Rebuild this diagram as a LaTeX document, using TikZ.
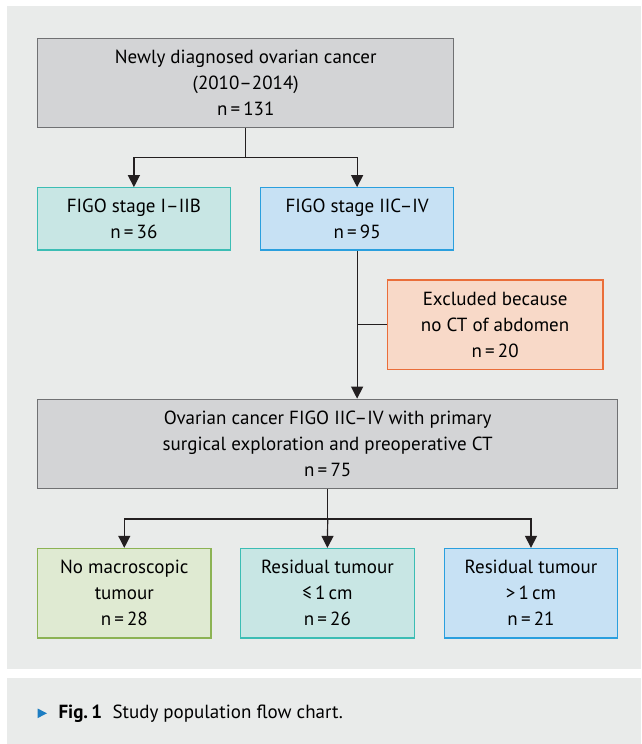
\documentclass[tikz,border=0pt]{standalone}
\usepackage{fontspec}
\setmainfont{PT Sans}
\usepackage{tikz}
\usetikzlibrary{arrows.meta}
\definecolor{panelbg}{HTML}{E9EBEA}
\definecolor{grayfill}{HTML}{D3D4D6}
\definecolor{grayline}{HTML}{707173}
\definecolor{tealfill}{HTML}{C8E6E4}
\definecolor{tealline}{HTML}{3CBDB4}
\definecolor{bluefill}{HTML}{C7E1F4}
\definecolor{blueline}{HTML}{2A9FDE}
\definecolor{peachfill}{HTML}{F8D9C8}
\definecolor{peachline}{HTML}{EA6E3A}
\definecolor{greenfill}{HTML}{DFEAD2}
\definecolor{greenline}{HTML}{8CB354}
\definecolor{edgecol}{HTML}{231F20}
\definecolor{markblue}{HTML}{1D7DC2}
\tikzstyle{node_box} = [draw, line width=1.2pt, align=center, inner sep=0pt, font=\fontsize{19}{26}\selectfont]
\tikzstyle{node_gray} = [node_box, fill=grayfill, draw=grayline, minimum height=89.5pt]
\tikzstyle{node_teal} = [node_box, fill=tealfill, draw=tealline]
\tikzstyle{node_blue} = [node_box, fill=bluefill, draw=blueline]
\tikzstyle{node_peach} = [node_box, fill=peachfill, draw=peachline]
\tikzstyle{node_green} = [node_box, fill=greenfill, draw=greenline]
\tikzstyle{edge_line} = [draw=edgecol, line width=1.2pt]
\tikzstyle{edge_arrow} = [edge_line, -{Triangle[length=12pt,width=12pt]}]

\begin{document}
\begin{tikzpicture}[x=1pt,y=-1pt]
\useasboundingbox (0,0) rectangle (641,744);
\fill[panelbg] (7,6) rectangle (641,669);
\fill[panelbg] (7,678) rectangle (641,744);

\def\hsmall{62.3pt}
\def\hbig{89.5pt}
\node (all) at (245.7,83) [node_gray, minimum width=416.2pt] {Newly diagnosed ovarian cancer\\(2010--2014)\\n\,=\,131};
\node (early) at (133.9,218.9) [node_teal, minimum width=192.6pt, minimum height=\hsmall] {FIGO stage I--IIB\\n\,=\,36};
\node (late) at (357.1,218.9) [node_blue, minimum width=193.4pt, minimum height=\hsmall] {FIGO stage IIC--IV\\n\,=\,95};
\node (excl) at (495.1,324.7) [node_peach, minimum width=215.8pt, minimum height=\hbig] {Excluded because\\no CT of abdomen\\n\,=\,20};
\node (study) at (327.7,444) [node_gray, minimum width=580.1pt] {Ovarian cancer FIGO IIC--IV with primary\\surgical exploration and preoperative CT\\n\,=\,75};
\node (none) at (124.3,593.2) [node_green, minimum width=173.4pt, minimum height=\hbig] {No macroscopic\\tumour\\n\,=\,28};
\node (small) at (327.4,593.2) [node_teal, minimum width=173.4pt, minimum height=\hbig] {Residual tumour\\≤\,1\,cm\\n\,=\,26};
\node (large) at (531,593.2) [node_blue, minimum width=173.4pt, minimum height=\hbig] {Residual tumour\\>\,1\,cm\\n\,=\,21};

\coordinate (split1) at (all.south |- 0,157.3);
\coordinate (split2) at (late.south |- excl.west);
\coordinate (split3) at (study.south |- 0,519);

\draw[edge_line] (all.south) -- (split1);
\draw[edge_arrow] (split1) -| (early.north);
\draw[edge_arrow] (split1) -| (late.north);
\draw[edge_arrow] (late.south) -- (late.south |- study.north);
\draw[edge_line] (split2) -- (excl.west);
\draw[edge_line] (study.south) -- (split3);
\draw[edge_arrow] (split3) -| (none.north);
\draw[edge_arrow] (split3) -- (small.north);
\draw[edge_arrow] (split3) -| (large.north);

\node (caption) at (55,713.3) [anchor=west, font=\fontsize{19}{26}\selectfont] {\textbf{Fig.\,1}\hspace{0.55em}Study population flow chart.};
\fill[markblue] (37.6,708.5) -- (47,713.3) -- (37.6,718.1) -- cycle;
\end{tikzpicture}
\end{document}
